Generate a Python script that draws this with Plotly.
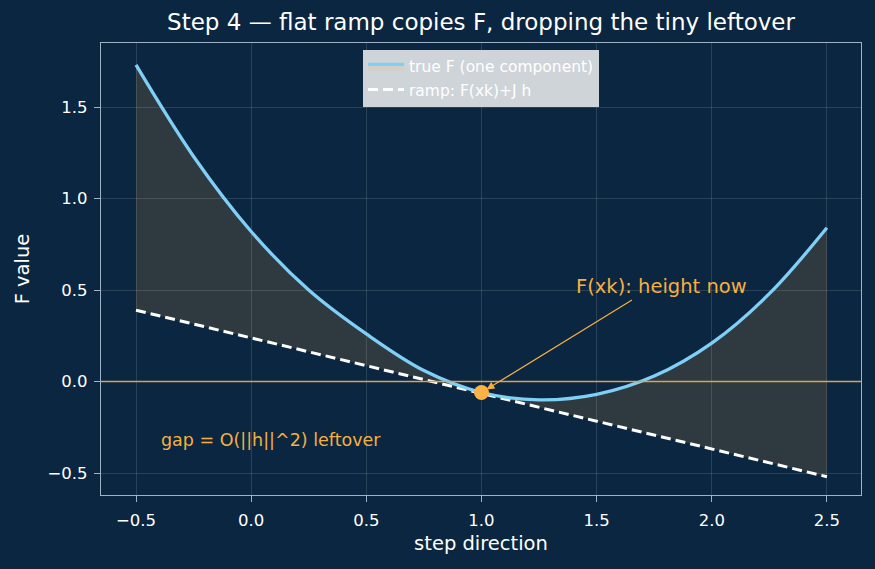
import plotly.graph_objects as go

# ---- data ----
step_x = [-0.5, -0.25, 0.0, 0.25, 0.5, 0.75, 1.0, 1.25, 1.5, 1.75, 2.0, 2.25, 2.5]
true_F = [1.73, 1.23, 0.82, 0.50, 0.26, 0.06, -0.06, -0.10, -0.07, 0.03, 0.21, 0.48, 0.84]
ramp_x = [-0.5, 2.5]
ramp_y = [0.39, -0.52]
point_x = [1.0]
point_y = [-0.06]
arrow_tail = (1.66, 0.45)
label_pos = (1.4, 0.52)
gap_pos = (-0.4, -0.32)
x_ticks = [-0.5, 0, 0.5, 1, 1.5, 2, 2.5]
y_ticks = [-0.5, 0, 0.5, 1, 1.5]

BG = "#0b2640"
ORANGE = "#f5b041"
BLUE = "#80cff7"
AXIS = "#9fb2c6"
GRID = "rgba(255,255,255,0.13)"
FONT = "DejaVu Sans"


def fmt(v):
    return f"{v:.1f}".replace("-", "−")


fig = go.Figure()

fig.add_trace(go.Scatter(
    x=ramp_x, y=ramp_y, mode="lines", name="ramp: F(xk)+J h",
    line=dict(color="white", width=3, dash="10px,5px"), legendrank=2,
))
fig.add_trace(go.Scatter(
    x=step_x, y=true_F, mode="lines", name="true F (one component)",
    line=dict(color=BLUE, width=3.3, shape="spline"),
    fill="tonexty", fillcolor="rgba(245,176,65,0.15)", legendrank=1,
))
fig.add_trace(go.Scatter(
    x=point_x, y=point_y, mode="markers", showlegend=False,
    marker=dict(color="#fbb347", size=15, line=dict(width=0)),
))

fig.add_hline(y=0, line=dict(color="#dba352", width=1.6), opacity=1, layer="above")

fig.add_annotation(
    x=point_x[0], y=point_y[0], ax=arrow_tail[0], ay=arrow_tail[1],
    axref="x", ayref="y", xref="x", yref="y", text="",
    showarrow=True, arrowhead=2, arrowsize=1.3, arrowwidth=1.2,
    arrowcolor=ORANGE, standoff=6,
)
fig.add_annotation(
    x=label_pos[0], y=label_pos[1], xref="x", yref="y", text="F(xk): height now",
    showarrow=False, xanchor="left", yanchor="middle",
    font=dict(family=FONT, size=19.5, color=ORANGE),
)
fig.add_annotation(
    x=gap_pos[0], y=gap_pos[1], xref="x", yref="y", text="gap = O(||h||^2) leftover",
    showarrow=False, xanchor="left", yanchor="middle",
    font=dict(family=FONT, size=17.5, color=ORANGE),
)

axis_common = dict(
    showline=True, mirror=True, linecolor=AXIS, linewidth=1.2,
    ticks="outside", ticklen=6, tickcolor=AXIS, tickwidth=1.2,
    showgrid=True, gridcolor=GRID, gridwidth=1, zeroline=False,
    tickfont=dict(family=FONT, size=16.5, color="white"),
)

fig.update_layout(
    width=875, height=569,
    paper_bgcolor=BG, plot_bgcolor=BG,
    margin=dict(l=101, r=14, t=43, b=74),
    title=dict(text="Step 4 — flat ramp copies F, dropping the tiny leftover",
               x=0.5, xref="paper", xanchor="center", y=0.961, yanchor="middle", yref="container",
               font=dict(family=FONT, size=23, color="white")),
    xaxis=dict(range=[-0.652, 2.648], tickvals=x_ticks, ticktext=[fmt(v) for v in x_ticks],
               ticklabelstandoff=4,
               title=dict(text="step direction", font=dict(family=FONT, size=19.5, color="white"), standoff=7),
               **axis_common),
    yaxis=dict(range=[-0.62, 1.85], tickvals=y_ticks, ticktext=[fmt(v) for v in y_ticks],
               ticklabelstandoff=3,
               title=dict(text="F value", font=dict(family=FONT, size=19.5, color="white"), standoff=12),
               **axis_common),
    legend=dict(x=0.5, xanchor="center", y=0.985, yanchor="top", traceorder="normal",
                bgcolor="#cfd4d9", borderwidth=0,
                font=dict(family=FONT, size=15.5, color="white"),
                tracegroupgap=0, itemwidth=36),
    showlegend=True,
)

fig.write_html("out.html")
